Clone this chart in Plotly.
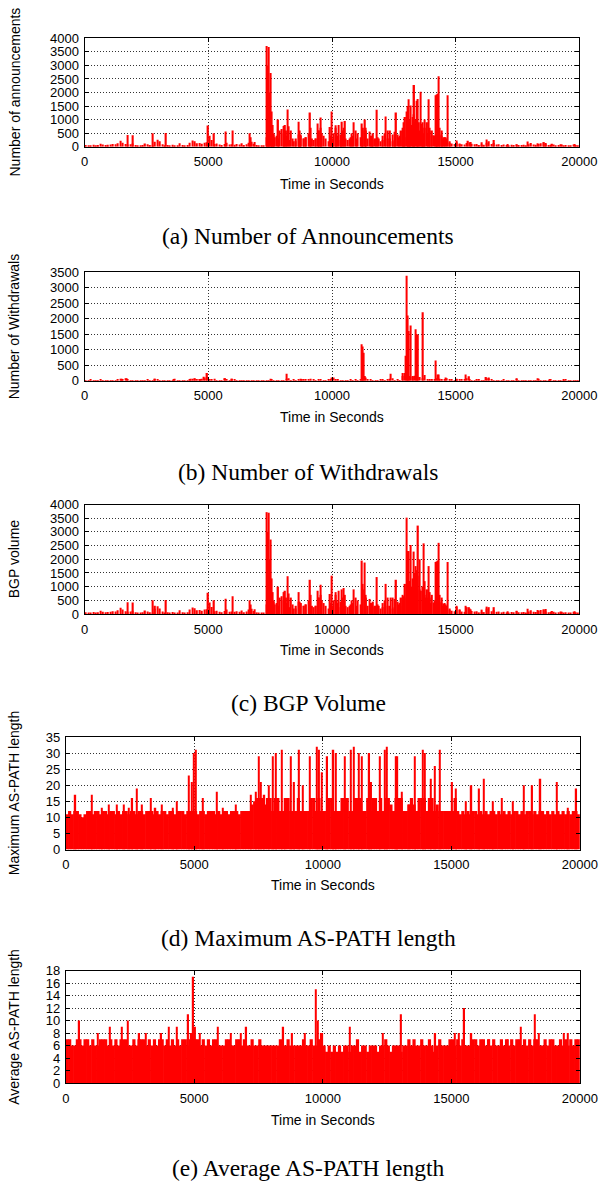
import plotly.graph_objects as go

W, H = 603, 1184
RED = "#ff0000"

# ---------------- data ----------------
# 100-second bins (bin centres)
bin_sec = list(range(50, 20000, 100))

ann_base = [
    60, 40, 50, 70, 50, 60, 110, 80, 60, 70,
    80, 100, 90, 130, 220, 150, 100, 80, 90, 120,
    60, 50, 40, 60, 120, 90, 60, 50, 180, 260,
    200, 90, 50, 60, 50, 70, 50, 40, 130, 60,
    50, 60, 150, 230, 200, 130, 140, 110, 150, 160,
    400, 250, 100, 120, 80, 60, 100, 150, 80, 90,
    70, 100, 80, 130, 60, 90, 150, 180, 110, 60,
    20, 30, 40, 350, 900, 600, 500, 400, 300, 650,
    500, 400, 750, 600, 200, 300, 450, 400, 300, 350,
    500, 700, 250, 300, 600, 700, 400, 300, 200, 400,
    500, 700, 400, 450, 600, 300, 250, 350, 400, 600,
    500, 350, 600, 700, 300, 400, 250, 300, 350, 200,
    250, 500, 600, 300, 200, 250, 450, 400, 250, 350,
    650, 900, 1100, 900, 800, 600, 700, 1000, 500, 700,
    600, 400, 800, 450, 600, 350, 300, 150, 120, 100,
    160, 120, 90, 80, 140, 160, 110, 90, 100, 60,
    80, 70, 150, 200, 100, 140, 80, 90, 60, 80,
    60, 50, 70, 60, 90, 60, 60, 70, 50, 90,
    140, 80, 70, 100, 130, 160, 90, 60, 70, 80,
    50, 60, 90, 40, 60, 50, 30, 80, 60, 40,
]
ann_spk_t = [1750, 1957, 2764, 3292, 4995, 5234, 5700, 5980, 6660, 6720, 6880,
             7361, 7410, 7454, 7490, 7516, 7560, 7600, 7650, 7700, 7827, 7870,
             8044, 8106, 8150, 8215, 8300, 8400, 8520, 8650, 8700, 8743, 8850,
             8950, 9116, 9200, 9350, 9427, 9480, 9550, 9600, 9923, 9985, 10050,
             10157, 10200, 10265, 10350, 10405, 10470, 10530, 10700, 10800, 10871,
             11000, 11213, 11260, 11337, 11380, 11508, 11600, 11663, 11720, 11818,
             11900, 12050, 12160, 12250, 12350, 12455, 12520, 12595, 12700, 12800,
             12860, 12905, 12960, 13014, 13050, 13092, 13140, 13185, 13240, 13290,
             13325, 13370, 13418, 13464, 13520, 13573, 13620, 13650, 13700, 13760,
             13850, 13899, 13950, 14030, 14101, 14180, 14225, 14270, 14303, 14360,
             14427, 14480, 14535, 14600, 14660, 14768, 15032, 15150, 15500, 15600,
             16050, 16250, 16550, 17100, 17450, 17900, 18300, 18550, 18650, 18900,
             19300, 19800]
ann_spk_v = [430, 420, 500, 510, 780, 500, 560, 600, 500, 350, 170,
             3720, 3000, 3680, 2000, 2720, 1300, 800, 450, 350, 1000, 600,
             760, 800, 600, 1370, 250, 300, 200, 920, 600, 450, 300,
             350, 1260, 300, 300, 860, 600, 1080, 500, 730, 1300, 300,
             790, 500, 800, 250, 920, 700, 950, 300, 500, 900,
             300, 860, 700, 1000, 600, 560, 400, 500, 300, 1360,
             300, 400, 1110, 300, 600, 450, 550, 1260, 350, 600,
             700, 900, 1100, 1300, 1500, 1750, 1000, 1520, 800, 1200,
             2280, 1000, 1700, 1760, 900, 2030, 850, 900, 500, 700,
             900, 1750, 600, 400, 420, 1900, 1930, 1950, 2600, 700,
             400, 300, 350, 350, 1900, 200, 230, 100, 220, 170,
             160, 270, 250, 100, 80, 190, 130, 160, 140, 110,
             80, 100]

wd_base = [
    20, 15, 25, 10, 20, 18, 25, 15, 20, 22,
    18, 20, 15, 25, 60, 30, 80, 25, 20, 15,
    22, 20, 18, 15, 20, 25, 18, 20, 60, 30,
    15, 20, 22, 18, 20, 20, 60, 22, 18, 20,
    20, 22, 40, 60, 70, 40, 30, 60, 80, 120,
    40, 30, 60, 22, 20, 18, 80, 40, 20, 60,
    40, 22, 20, 18, 15, 20, 20, 18, 15, 20,
    18, 20, 15, 18, 20, 50, 20, 18, 22, 20,
    22, 60, 80, 20, 30, 22, 40, 60, 40, 30,
    40, 60, 30, 22, 40, 30, 20, 22, 25, 30,
    100, 30, 40, 22, 20, 20, 22, 25, 20, 40,
    22, 30, 150, 100, 25, 40, 20, 22, 20, 30,
    25, 20, 30, 60, 80, 20, 25, 22, 150, 250,
    200, 150, 120, 160, 130, 120, 80, 180, 30, 40,
    40, 30, 80, 60, 30, 40, 80, 30, 25, 20,
    60, 25, 30, 40, 80, 40, 20, 22, 30, 25,
    20, 22, 80, 100, 25, 20, 22, 18, 20, 25,
    20, 22, 18, 20, 60, 22, 20, 18, 18, 22,
    20, 18, 20, 60, 22, 20, 18, 20, 40, 20,
    18, 22, 20, 18, 30, 20, 22, 18, 20, 18,
]
wd_spk_t = [1490, 1690, 2840, 3590, 4285, 4440, 4675, 4830, 4955, 5685, 5965,
            7515, 8170, 8790, 10000, 11197, 11243, 11290, 11337, 12360, 12860,
            12970, 13015, 13060, 13090, 13185, 13280, 13370, 13418, 13480, 13680,
            14180, 14257, 14320, 14580, 15050, 15390, 15545, 16230, 16340, 17460,
            18300, 18810, 19370]
wd_spk_v = [60, 80, 60, 50, 60, 80, 50, 130, 250, 80, 60,
            60, 220, 50, 100, 1170, 1100, 900, 150, 220, 250,
            800, 3380, 2100, 1600, 1780, 150, 1660, 1500, 1480, 2200,
            650, 200, 200, 100, 50, 200, 140, 120, 70, 80,
            80, 50, 50]

vol_base = [
    60, 40, 50, 70, 50, 60, 120, 80, 60, 70,
    80, 100, 90, 140, 230, 160, 100, 80, 90, 120,
    60, 50, 40, 60, 130, 90, 60, 50, 190, 280,
    200, 90, 50, 60, 50, 70, 50, 40, 140, 60,
    50, 60, 160, 240, 210, 140, 150, 120, 160, 170,
    420, 260, 100, 120, 80, 60, 110, 160, 80, 90,
    80, 100, 80, 130, 60, 90, 160, 190, 110, 60,
    20, 30, 40, 350, 900, 600, 500, 400, 300, 650,
    500, 400, 750, 600, 200, 300, 450, 400, 300, 350,
    500, 700, 250, 300, 600, 700, 400, 300, 200, 400,
    500, 700, 400, 450, 600, 300, 250, 350, 400, 600,
    500, 350, 1100, 700, 300, 400, 250, 300, 350, 200,
    250, 500, 600, 300, 200, 250, 450, 400, 300, 600,
    1500, 1200, 1300, 1100, 1400, 900, 1000, 1200, 600, 800,
    700, 500, 900, 450, 600, 400, 300, 150, 120, 100,
    260, 170, 90, 80, 250, 200, 110, 90, 100, 60,
    80, 70, 200, 250, 100, 140, 80, 90, 60, 80,
    60, 50, 70, 60, 100, 60, 60, 70, 50, 90,
    140, 80, 70, 120, 150, 160, 90, 60, 70, 80,
    50, 60, 90, 40, 60, 50, 30, 80, 60, 40,
]
vol_spk_t = [1750, 1957, 2764, 2850, 3292, 4995, 5234, 5700, 5980, 6660, 6720, 6880,
             7361, 7410, 7454, 7490, 7516, 7560, 7600, 7650, 7700, 7827, 7870,
             8044, 8106, 8150, 8215, 8300, 8400, 8520, 8650, 8700, 8743, 8850,
             8950, 9116, 9200, 9350, 9427, 9480, 9550, 9600, 9923, 10000, 10050,
             10157, 10200, 10265, 10350, 10405, 10467, 10530, 10700, 10800, 10870,
             11000, 11213, 11260, 11306, 11380, 11508, 11600, 11663, 11720, 11818,
             11900, 12050, 12160, 12250, 12360, 12455, 12520, 12595, 12700, 12800,
             12860, 12905, 12960, 13014, 13050, 13092, 13140, 13185, 13240, 13294,
             13330, 13372, 13420, 13480, 13542, 13604, 13650, 13697, 13750, 13806,
             13850, 13899, 13950, 13992, 14116, 14180, 14225, 14270, 14303, 14360,
             14427, 14480, 14535, 14600, 14660, 14768, 15032, 15150, 15400, 15545,
             15600, 16050, 16250, 16550, 17100, 17450, 17900, 18300, 18550, 18650,
             18900, 19300, 19800]
vol_spk_v = [430, 420, 500, 300, 510, 780, 500, 560, 650, 500, 350, 170,
             3720, 3000, 3700, 2000, 2720, 1300, 800, 450, 350, 1000, 600,
             800, 850, 600, 1380, 250, 350, 200, 800, 450, 400, 300,
             350, 1250, 300, 300, 850, 600, 1070, 500, 730, 1400, 300,
             800, 500, 850, 250, 900, 950, 700, 300, 500, 900,
             300, 1950, 900, 1880, 600, 550, 400, 450, 300, 1350,
             300, 400, 1100, 300, 600, 600, 550, 1250, 350, 600,
             700, 650, 1100, 3520, 2300, 2300, 1200, 2520, 1000, 2280,
             1500, 1750, 1600, 3230, 2000, 850, 1000, 2580, 700, 600,
             900, 1750, 600, 400, 420, 1900, 1920, 1950, 2600, 700,
             400, 300, 380, 350, 1900, 200, 300, 150, 300, 250,
             170, 160, 270, 250, 100, 120, 190, 150, 160, 180,
             110, 80, 100]

maxp_base = [
    11, 12, 11, 12, 12, 11, 10, 11, 12, 12,
    11, 12, 12, 11, 12, 12, 11, 12, 12, 11,
    12, 11, 12, 12, 11, 12, 12, 11, 12, 12,
    11, 12, 12, 12, 11, 12, 11, 12, 12, 11,
    12, 12, 11, 12, 12, 12, 11, 12, 12, 12,
    12, 11, 12, 12, 11, 12, 12, 12, 11, 12,
    11, 12, 12, 11, 12, 12, 12, 11, 12, 12,
    12, 12, 14, 15, 16, 16, 16, 14, 16, 16,
    12, 16, 16, 12, 12, 16, 16, 12, 12, 12,
    16, 12, 12, 12, 12, 16, 16, 12, 16, 12,
    12, 12, 16, 16, 12, 12, 12, 16, 16, 16,
    12, 12, 16, 16, 16, 12, 12, 16, 12, 16,
    16, 12, 16, 12, 16, 16, 14, 12, 16, 16,
    16, 12, 12, 14, 16, 14, 12, 16, 16, 16,
    12, 16, 16, 12, 14, 12, 12, 12, 12, 12,
    12, 16, 12, 11, 12, 11, 12, 11, 12, 12,
    11, 12, 11, 12, 11, 12, 12, 11, 12, 11,
    12, 11, 12, 11, 12, 12, 11, 12, 11, 12,
    12, 11, 12, 11, 12, 12, 11, 12, 11, 12,
    11, 12, 11, 12, 11, 12, 11, 12, 12, 11,
]
maxp_spk_t = [375, 1020, 1390, 1680, 1980, 2250, 2440, 2590, 2770, 2970, 3310,
              3490, 3745, 4165, 4315, 4780, 4910, 4990, 5065, 5320, 5870, 6110,
              6605, 7190, 7390, 7505, 7580, 7730, 7910, 8060, 8165, 8405, 8510,
              8750, 8885, 9080, 9215, 9490, 9770, 9860, 9965, 10175, 10415, 10505,
              10850, 11090, 11195, 11405, 11525, 11810, 11885, 12230, 12410, 12485,
              12830, 12905, 13085, 13355, 13580, 13895, 13970, 14210, 14360, 14555,
              15035, 15185, 15560, 15785, 16085, 16265, 16610, 16955, 17400, 17810,
              18150, 18470, 19100, 19535, 19865]
maxp_spk_v = [17, 17, 13, 14, 14, 14, 13, 16, 19, 14, 16,
              13, 14, 13, 15, 23, 21, 30, 31, 16, 18, 13,
              14, 17, 18, 29, 21, 17, 20, 29, 30, 31, 16,
              29, 21, 31, 20, 29, 32, 31, 24, 29, 31, 30,
              29, 31, 32, 30, 29, 30, 21, 29, 31, 32,
              29, 29, 18, 14, 29, 31, 30, 22, 26, 31,
              21, 19, 15, 20, 19, 22, 15, 16, 15, 20,
              20, 22, 21, 13, 19]

avgp_base = [
    7, 7, 6, 6, 7, 7, 6, 7, 7, 6,
    7, 6, 6, 7, 7, 7, 6, 7, 6, 7,
    6, 7, 7, 7, 6, 6, 7, 6, 7, 7,
    7, 6, 7, 6, 7, 6, 7, 7, 6, 7,
    6, 7, 6, 7, 6, 7, 7, 6, 7, 7,
    7, 7, 6, 7, 6, 7, 6, 7, 7, 6,
    6, 6, 7, 7, 6, 6, 7, 7, 6, 7,
    6, 6, 7, 6, 6, 7, 6, 6, 6, 6,
    6, 6, 6, 7, 6, 6, 7, 6, 6, 6,
    6, 6, 7, 6, 6, 7, 6, 6, 7, 8,
    6, 5, 6, 5, 6, 5, 6, 5, 6, 6,
    5, 6, 6, 7, 5, 6, 6, 5, 6, 6,
    6, 5, 6, 6, 7, 6, 5, 6, 6, 6,
    5, 6, 6, 7, 6, 7, 6, 6, 7, 6,
    6, 7, 6, 5, 6, 7, 6, 6, 6, 7,
    7, 6, 7, 6, 7, 6, 6, 6, 7, 7,
    6, 7, 7, 6, 7, 6, 7, 6, 6, 7,
    6, 7, 6, 7, 6, 7, 7, 6, 7, 6,
    7, 6, 7, 7, 6, 6, 7, 6, 7, 7,
    6, 6, 7, 6, 7, 6, 7, 6, 7, 7,
]
avgp_spk_t = [525, 1245, 1725, 2170, 2410, 2860, 3115, 3715, 4015, 4315, 4765,
              4885, 4960, 5035, 5215, 5920, 6410, 6815, 7025, 8465, 8810, 9290,
              9735, 9800, 11055, 12330, 13050, 14380, 15130, 15300, 15505, 15785,
              16460, 17210, 17700, 18255, 18405, 19385, 19535]
avgp_spk_v = [10, 8, 9, 9, 10, 8, 8, 8, 9, 9, 11,
              8, 17, 9, 8, 9, 8, 8, 9, 9, 8, 8,
              15, 10, 9, 8, 11, 8, 8, 8, 12, 8,
              7, 7, 9, 11, 8, 8, 8]

y_titles = ["Number of announcements", "Number of Withdrawals", "BGP volume",
            "Maximum AS-PATH length", "Average AS-PATH length"]
captions = ["(a) Number of Announcements", "(b) Number of Withdrawals",
            "(c) BGP Volume", "(d) Maximum AS-PATH length",
            "(e) Average AS-PATH length"]
x_title = "Time in Seconds"
y_max = [4000, 3500, 4000, 35, 18]
y_step = [500, 500, 500, 5, 2]
x_ticks = [0, 5000, 10000, 15000, 20000]

series = [
    (ann_base, ann_spk_t, ann_spk_v),
    (wd_base, wd_spk_t, wd_spk_v),
    (vol_base, vol_spk_t, vol_spk_v),
    (maxp_base, maxp_spk_t, maxp_spk_v),
    (avgp_base, avgp_spk_t, avgp_spk_v),
]

# ---------------- layout geometry (pixels) ----------------
boxes = [  # left, right, top, bottom
    (84.6, 579.4, 38.3, 146.7),
    (84.6, 579.4, 272.0, 380.7),
    (84.6, 579.4, 504.5, 614.0),
    (65.8, 579.8, 737.0, 849.5),
    (65.8, 579.8, 970.5, 1083.0),
]
caption_y = [236, 472, 703, 938, 1168]
xtitle_y = [184, 417, 650, 885, 1120]
base_width = [50, 50, 50, 125, 125]

SANS = "Liberation Sans, Arial, Helvetica, sans-serif"
SERIF = "Liberation Serif, Times New Roman, serif"

fig = go.Figure()
layout = dict(
    width=W, height=H, margin=dict(l=0, r=0, t=0, b=0, pad=0),
    paper_bgcolor="white", plot_bgcolor="white", showlegend=False,
    barmode="overlay", font=dict(family=SANS, size=13, color="black"),
)
annotations = []

for i, ((base, st, sv), box) in enumerate(zip(series, boxes)):
    n = i + 1
    xa = "x" if n == 1 else f"x{n}"
    ya = "y" if n == 1 else f"y{n}"
    fig.add_trace(go.Bar(x=bin_sec, y=base, width=base_width[i], xaxis=xa, yaxis=ya,
                         marker=dict(color=RED, line=dict(width=0))))
    fig.add_trace(go.Bar(x=st, y=sv, width=55, xaxis=xa, yaxis=ya,
                         marker=dict(color=RED, line=dict(width=0))))
    l, r, t, b = box
    axis_common = dict(
        showline=True, linecolor="black", linewidth=1, mirror="allticks",
        ticks="inside", ticklen=4, tickcolor="black", tickwidth=1,
        showgrid=True, gridcolor="#333", gridwidth=1, griddash="1px,2px",
        zeroline=False, tickfont=dict(family=SANS, size=13, color="black"),
        automargin=False,
    )
    layout["xaxis" if n == 1 else f"xaxis{n}"] = dict(
        axis_common, domain=[l / W, r / W], range=[0, 20000],
        tickvals=x_ticks, ticktext=[str(v) for v in x_ticks],
        anchor=ya, ticklabelstandoff=3,
    )
    yt = list(range(0, y_max[i] + 1, y_step[i]))
    layout["yaxis" if n == 1 else f"yaxis{n}"] = dict(
        axis_common, domain=[1 - b / H, 1 - t / H], range=[0, y_max[i]],
        tickvals=yt, ticktext=[str(v) for v in yt], anchor=xa,
        ticklabelstandoff=2,
    )
    cx = (l + r) / 2
    annotations.append(dict(text=x_title, x=cx / W, y=1 - xtitle_y[i] / H,
                            xref="paper", yref="paper", showarrow=False,
                            xanchor="center", yanchor="middle",
                            font=dict(family=SANS, size=14, color="black")))
    annotations.append(dict(text=y_titles[i], x=14 / W, y=1 - ((t + b) / 2) / H,
                            xref="paper", yref="paper", showarrow=False,
                            textangle=-90, xanchor="center", yanchor="middle",
                            font=dict(family=SANS, size=14, color="black")))
    annotations.append(dict(text=captions[i], x=308 / W, y=1 - caption_y[i] / H,
                            xref="paper", yref="paper", showarrow=False,
                            xanchor="center", yanchor="middle",
                            font=dict(family=SERIF, size=23.5, color="black")))

layout["annotations"] = annotations
fig.update_layout(**layout)
fig.write_html(
    "out.html",
    config={"responsive": False, "displayModeBar": False},
    post_script=("document.documentElement.style.margin='0';"
                 "document.body.style.margin='0';"
                 "document.body.style.padding='0';"
                 "document.documentElement.style.overflow='hidden';"
                 "document.body.style.overflow='hidden';"),
)
